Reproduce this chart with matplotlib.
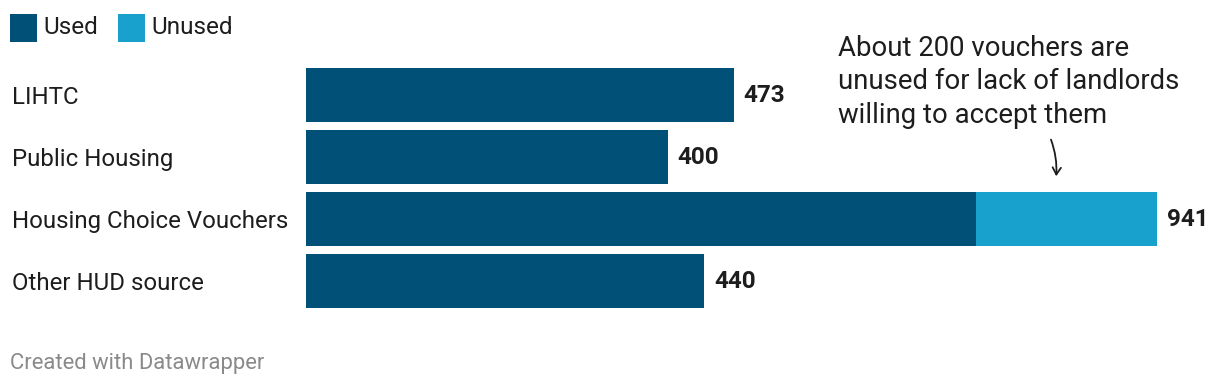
import matplotlib
matplotlib.use("Agg")
import matplotlib.pyplot as plt
from matplotlib.patches import Rectangle, FancyArrowPatch
from matplotlib.transforms import blended_transform_factory, offset_copy

plt.rcParams['font.family'] = ['Roboto', 'DejaVu Sans']

categories = ["LIHTC", "Public Housing", "Housing Choice Vouchers", "Other HUD source"]
used = [473, 400, 741, 440]
unused = [0, 0, 200, 0]
totals = [473, 400, 941, 440]
series_names = ["Used", "Unused"]

C_USED = "#005077"
C_UNUSED = "#19a1cd"
TXT = "#1d1d1d"

W, H = 1220, 386
fig = plt.figure(figsize=(W / 100, H / 100), dpi=100)

# axes: x from 306px to 1220px, y from 68px to 308px
ax_left, ax_right = 306, 1220
ax_top, ax_bot = 68, 308
ax = fig.add_axes([ax_left / W, 1 - ax_bot / H, (ax_right - ax_left) / W, (ax_bot - ax_top) / H])
scale = 0.9045  # px per unit
ax.set_xlim(0, (ax_right - ax_left) / scale)
bh = 54 / 62
ax.set_ylim(3 + bh / 2, -bh / 2)
ax.axis("off")

ypos = list(range(len(categories)))
ax.barh(ypos, used, height=bh, color=C_USED, linewidth=0)
ax.barh(ypos, unused, left=used, height=bh, color=C_UNUSED, linewidth=0)

blend = offset_copy(blended_transform_factory(fig.transFigure, ax.transData),
                    fig=fig, x=0, y=-2.5, units="dots")
for y, t, name in zip(ypos, totals, categories):
    ax.annotate(str(t), xy=(t, y), xytext=(10, -1), textcoords="offset pixels",
                ha="left", va="center", fontsize=17.5, fontweight="bold", color=TXT)
    fig.text(12 / W, y, name, fontsize=17.3, color=TXT, ha="left", va="center",
             transform=blend)

# legend
def legend_item(x0, color, label):
    fig.patches.append(Rectangle((x0 / W, 1 - 42 / H), 27 / W, 28 / H, transform=fig.transFigure,
                                 facecolor=color, edgecolor="none"))
    fig.text((x0 + 33) / W, 1 - 27 / H, label, fontsize=17.5, color=TXT, ha="left", va="center")

legend_item(10, C_USED, series_names[0])
legend_item(118, C_UNUSED, series_names[1])

# annotation
fig.text(838 / W, 1 - 35 / H, "About 200 vouchers are\nunused for lack of landlords\nwilling to accept them",
         fontsize=19.8, color=TXT, ha="left", va="top", linespacing=1.30)
fig.add_artist(FancyArrowPatch(
    (1050 / W, 1 - 137 / H), (1056 / W, 1 - 179 / H), transform=fig.transFigure,
    arrowstyle="->,head_length=5,head_width=3", connectionstyle="arc3,rad=-0.12",
    color=TXT, linewidth=1.3))

# footer
fig.text(10 / W, 1 - 363 / H, "Created with Datawrapper", fontsize=15.8, color="#8a8a8a",
         ha="left", va="center")

fig.savefig("out.png", dpi=100, facecolor="white")
